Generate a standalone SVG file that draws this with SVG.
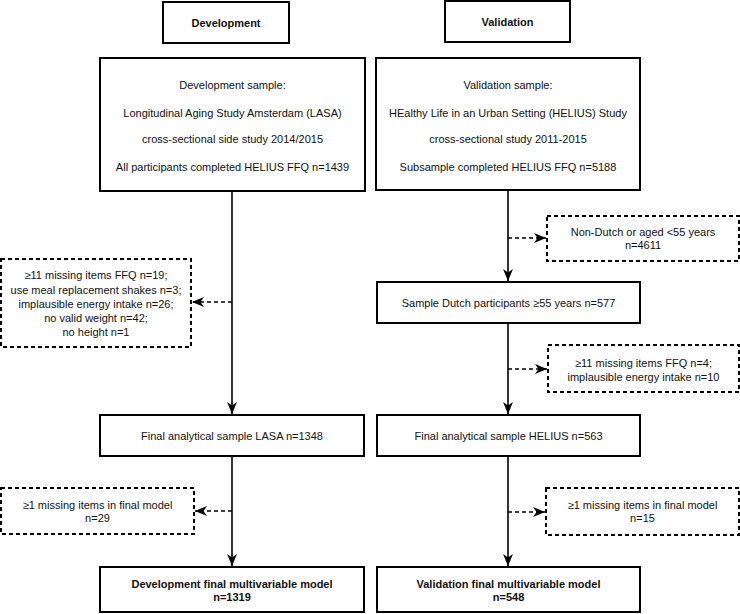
<svg xmlns="http://www.w3.org/2000/svg" width="740" height="614" viewBox="0 0 740 614">
<style>
.box{fill:#fff;stroke:#000;stroke-width:2}
.dbox{fill:#fff;stroke:#000;stroke-width:2;stroke-dasharray:4 3}
.t{font-family:"Liberation Sans",Arial,sans-serif;font-size:11px;fill:#111;text-anchor:middle}
.b{font-weight:bold}
.ln{fill:none;stroke:#000;stroke-width:1.6}
.dl{fill:none;stroke:#000;stroke-width:1.6;stroke-dasharray:4 3}
</style>
<defs>
<marker id="ah" viewBox="0 0 12 10" refX="12" refY="5" markerWidth="12" markerHeight="10" markerUnits="userSpaceOnUse" orient="auto">
<path d="M0,0 L12,5 L0,10 L3.5,5 z" fill="#000"/>
</marker>
</defs>
<g id="connectors">
<path class="ln" d="M232,192 V414" marker-end="url(#ah)"/>
<path class="dl" d="M232,302 H192" marker-end="url(#ah)"/>
<path class="ln" d="M232,457 V566" marker-end="url(#ah)"/>
<path class="dl" d="M232,511 H195" marker-end="url(#ah)"/>
<path class="ln" d="M508,191 V281" marker-end="url(#ah)"/>
<path class="dl" d="M508,238 H546" marker-end="url(#ah)"/>
<path class="ln" d="M508,324 V414" marker-end="url(#ah)"/>
<path class="dl" d="M508,369 H547" marker-end="url(#ah)"/>
<path class="ln" d="M508,457 V566" marker-end="url(#ah)"/>
<path class="dl" d="M508,512 H545" marker-end="url(#ah)"/>
</g>
<g id="dev-header">
<rect class="box" x="163" y="2" width="126" height="41"/>
<text class="t b" x="226" y="26.5">Development</text>
</g>
<g id="val-header">
<rect class="box" x="445" y="1" width="125" height="41"/>
<text class="t b" x="507.5" y="25.5">Validation</text>
</g>
<g id="dev-sample">
<rect class="box" x="100" y="58" width="265" height="133"/>
<text class="t" x="232.5" y="89">Development sample:</text>
<text class="t" x="232.5" y="117">Longitudinal Aging Study Amsterdam (LASA)</text>
<text class="t" x="232.5" y="143">cross-sectional side study 2014/2015</text>
<text class="t" x="232.5" y="171">All participants completed HELIUS FFQ n=1439</text>
</g>
<g id="val-sample">
<rect class="box" x="376" y="58" width="264" height="132"/>
<text class="t" x="508" y="89">Validation sample:</text>
<text class="t" x="508" y="117">HEalthy Life in an Urban Setting (HELIUS) Study</text>
<text class="t" x="508" y="143">cross-sectional study 2011-2015</text>
<text class="t" x="508" y="171">Subsample completed HELIUS FFQ n=5188</text>
</g>
<g id="dev-excl1">
<rect class="dbox" x="1" y="259" width="190" height="88"/>
<text class="t" x="96" y="279">≥11 missing items FFQ n=19;</text>
<text class="t" x="96" y="293.5">use meal replacement shakes n=3;</text>
<text class="t" x="96" y="308">implausible energy intake n=26;</text>
<text class="t" x="96" y="322">no valid weight n=42;</text>
<text class="t" x="96" y="336">no height n=1</text>
</g>
<g id="val-excl1">
<rect class="dbox" x="547" y="216" width="192" height="45"/>
<text class="t" x="643" y="236">Non-Dutch or aged &lt;55 years</text>
<text class="t" x="643" y="249">n=4611</text>
</g>
<g id="val-dutch">
<rect class="box" x="377" y="282" width="263" height="41"/>
<text class="t" x="508.5" y="307">Sample Dutch participants ≥55 years n=577</text>
</g>
<g id="val-excl2">
<rect class="dbox" x="548" y="345" width="191" height="47"/>
<text class="t" x="643.5" y="367">≥11 missing items FFQ n=4;</text>
<text class="t" x="643.5" y="381">implausible energy intake n=10</text>
</g>
<g id="dev-final">
<rect class="box" x="100" y="415" width="264" height="41"/>
<text class="t" x="232" y="440">Final analytical sample LASA n=1348</text>
</g>
<g id="val-final">
<rect class="box" x="377" y="415" width="263" height="41"/>
<text class="t" x="508.5" y="440">Final analytical sample HELIUS n=563</text>
</g>
<g id="dev-excl2">
<rect class="dbox" x="1" y="488" width="193" height="46"/>
<text class="t" x="97.5" y="509">≥1 missing items in final model</text>
<text class="t" x="97.5" y="522">n=29</text>
</g>
<g id="val-excl3">
<rect class="dbox" x="546" y="488" width="193" height="47"/>
<text class="t" x="642.5" y="509">≥1 missing items in final model</text>
<text class="t" x="642.5" y="522">n=15</text>
</g>
<g id="dev-model">
<rect class="box" x="100" y="567" width="264" height="45"/>
<text class="t b" x="232" y="588">Development final multivariable model</text>
<text class="t b" x="232" y="601">n=1319</text>
</g>
<g id="val-model">
<rect class="box" x="377" y="567" width="263" height="45"/>
<text class="t b" x="508.5" y="588">Validation final multivariable model</text>
<text class="t b" x="508.5" y="601">n=548</text>
</g>
</svg>
